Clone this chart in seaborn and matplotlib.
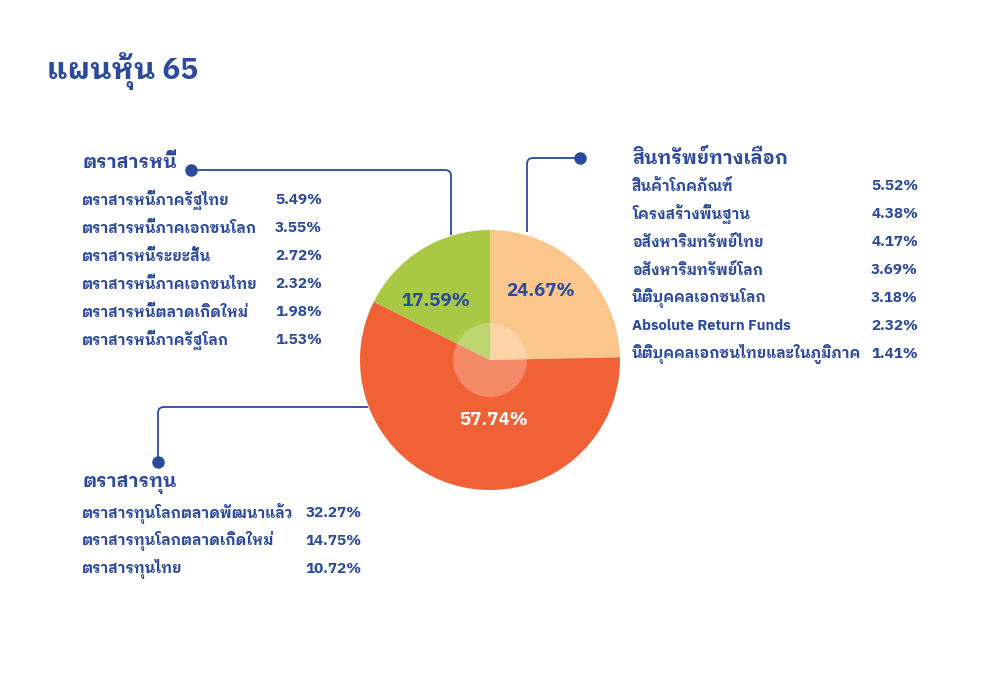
import matplotlib
matplotlib.use("Agg")
import matplotlib.pyplot as plt
import matplotlib.patches as mpatches
from matplotlib.path import Path
import seaborn as sns

# --- data ---
group_names = ["สินทรัพย์ทางเลือก", "ตราสารทุน", "ตราสารหนี้"]
group_values = [24.67, 57.74, 17.59]

debt_names = ["ตราสารหนี้ภาครัฐไทย", "ตราสารหนี้ภาคเอกชนโลก", "ตราสารหนี้ระยะสั้น",
              "ตราสารหนี้ภาคเอกชนไทย", "ตราสารหนี้ตลาดเกิดใหม่", "ตราสารหนี้ภาครัฐโลก"]
debt_values = [5.49, 3.55, 2.72, 2.32, 1.98, 1.53]

alt_names = ["สินค้าโภคภัณฑ์", "โครงสร้างพื้นฐาน", "อสังหาริมทรัพย์ไทย", "อสังหาริมทรัพย์โลก",
             "นิติบุคคลเอกชนโลก", "Absolute Return Funds", "นิติบุคคลเอกชนไทยและในภูมิภาค"]
alt_values = [5.52, 4.38, 4.17, 3.69, 3.18, 2.32, 1.41]

equity_names = ["ตราสารทุนโลกตลาดพัฒนาแล้ว", "ตราสารทุนโลกตลาดเกิดใหม่", "ตราสารทุนไทย"]
equity_values = [32.27, 14.75, 10.72]

title = "แผนหุ้น 65"

# --- style ---
sns.set_theme(style="white")
plt.rcParams['font.family'] = ['IBM Plex Sans Thai Looped', 'DejaVu Sans']
plt.rcParams['font.weight'] = 'bold'

BLUE = "#2B4A9C"
pie_colors = sns.color_palette(["#FBC68C", "#F06235", "#A9C944"])

fig = plt.figure(figsize=(10, 7), dpi=100)
fig.patch.set_facecolor("white")
ax = fig.add_axes([0, 0, 1, 1])


def Y(y):
    # pixel row from the top -> data y
    return 700 - y


# --- pie ---
cx, cy, r = 490, Y(360), 130
ax.pie(group_values, colors=pie_colors, startangle=90, counterclock=False,
       center=(cx, cy), radius=r, wedgeprops=dict(linewidth=0), frame=True)
ax.set_xlim(0, 1000)
ax.set_ylim(0, 700)
ax.set_aspect("equal")
ax.axis("off")
ax.add_patch(mpatches.Circle((cx, cy), 37, color="white", alpha=0.25, lw=0, zorder=3))

# slice labels
pct_pos = [(541, 291, BLUE), (494, 420, "white"), (436, 301, BLUE)]
for v, (x, y, c) in zip(group_values, pct_pos):
    ax.text(x, Y(y), f"{v:.2f}%", color=c, fontsize=13.5, ha="center", va="center", zorder=4)

# title
ax.text(47, Y(71), title, color=BLUE, fontsize=21.5, ha="left", va="center")


# --- lists ---
def block(x_name, x_val, y_head, head, names, values, first=28, step=28):
    ax.text(x_name, Y(y_head), head, color=BLUE, fontsize=13.5, ha="left", va="center")
    for i, (n, v) in enumerate(zip(names, values)):
        yy = Y(y_head + first + i * step)
        ax.text(x_name, yy, n, color=BLUE, fontsize=10.6, ha="left", va="center")
        ax.text(x_val, yy, f"{v:.2f}%", color=BLUE, fontsize=11, ha="right", va="center")


block(82, 322, 163, group_names[2], debt_names, debt_values, first=37)
block(632, 918, 158, group_names[0], alt_names, alt_values, first=28)
block(82, 362, 484, group_names[1], equity_names, equity_values, first=29)


# --- connector lines (one rounded corner each) ---
def connector(p0, corner, p1, dot):
    (x0, y0), (xc, yc), (x1, y1) = p0, corner, p1
    k = 6
    # points just before/after the corner
    ax_ = xc + (k if x0 > xc else -k) if x0 != xc else xc
    ay_ = yc + (k if y0 > yc else -k) if y0 != yc else yc
    bx_ = xc + (k if x1 > xc else -k) if x1 != xc else xc
    by_ = yc + (k if y1 > yc else -k) if y1 != yc else yc
    verts = [(x0, Y(y0)), (ax_, Y(ay_)), (xc, Y(yc)), (bx_, Y(by_)), (x1, Y(y1))]
    codes = [Path.MOVETO, Path.LINETO, Path.CURVE3, Path.CURVE3, Path.LINETO]
    ax.add_patch(mpatches.PathPatch(Path(verts, codes), fill=False, ec=BLUE, lw=1.3, zorder=1))
    ax.plot([dot[0]], [Y(dot[1])], "o", color=BLUE, ms=8, zorder=2)


connector((191, 170), (451, 170), (451, 235), (191, 170))
connector((580, 158), (527, 158), (527, 232), (580, 158))
connector((368, 407), (158, 407), (158, 462), (158, 462))

fig.savefig("out.png", dpi=100)
